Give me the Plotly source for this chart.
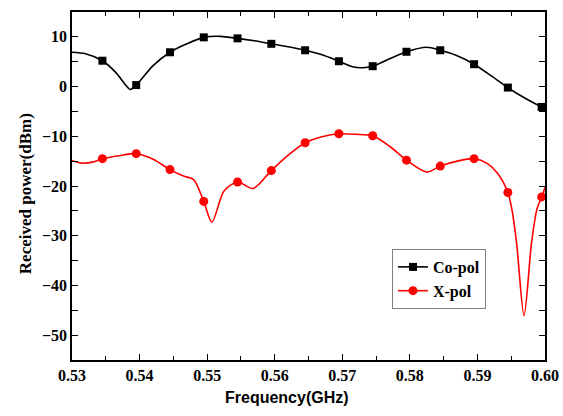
import numpy as np
import plotly.graph_objects as go

# Frequency sweep (GHz) and received power (dBm)
co_freq = [0.5300, 0.5320, 0.5345, 0.5365, 0.5380, 0.5386, 0.5395, 0.5420, 0.5445,
           0.5470, 0.5495, 0.5520, 0.5545, 0.5570, 0.5595, 0.5620, 0.5645, 0.5670,
           0.5695, 0.5715, 0.5730, 0.5745, 0.5770, 0.5795, 0.5825, 0.5845, 0.5870,
           0.5895, 0.5920, 0.5945, 0.5970, 0.5995, 0.6000]
co_pol = [6.9, 6.6, 5.2, 2.8, 0.2, -0.6, 0.3, 4.2, 6.9,
          8.6, 9.9, 10.1, 9.7, 9.2, 8.6, 8.0, 7.3, 6.4,
          5.1, 4.0, 3.8, 4.1, 5.6, 7.0, 7.9, 7.3, 6.2,
          4.5, 2.2, -0.2, -2.3, -4.1, -4.4]

x_freq = [0.5300, 0.5315, 0.5330, 0.5345, 0.5370, 0.5395, 0.5420, 0.5445, 0.5465,
          0.5480, 0.5495, 0.5507, 0.5525, 0.5545, 0.5568, 0.5595, 0.5620, 0.5645,
          0.5670, 0.5695, 0.5720, 0.5745, 0.5770, 0.5795, 0.5825, 0.5845, 0.5870,
          0.5895, 0.5915, 0.5930, 0.5945, 0.5951, 0.5958, 0.5969, 0.5980, 0.5988,
          0.5995, 0.6000]
x_pol = [-14.9, -15.4, -15.2, -14.5, -13.9, -13.5, -14.6, -16.7, -18.0,
         -18.7, -23.1, -27.3, -21.0, -19.2, -20.5, -16.9, -13.8, -11.3,
         -10.1, -9.5, -9.6, -9.9, -12.0, -14.8, -17.2, -16.0, -15.0,
         -14.5, -15.5, -17.5, -21.3, -24.7, -31.5, -46.1, -31.5, -24.7,
         -22.2, -20.3]

# Symbols are drawn at every 5 MHz sample
marker_freq = [0.5345, 0.5395, 0.5445, 0.5495, 0.5545, 0.5595, 0.5645,
               0.5695, 0.5745, 0.5795, 0.5845, 0.5895, 0.5945, 0.5995]

x_ticks = [0.53, 0.54, 0.55, 0.56, 0.57, 0.58, 0.59, 0.60]
y_ticks = [-50, -40, -30, -20, -10, 0, 10]


def pick(freq, vals):
    f = np.array(freq)
    v = np.array(vals)
    mask = np.array([np.isclose(marker_freq, m).any() for m in f])
    return f[mask], v[mask]


fig = go.Figure()

series = [
    ("Co-pol", co_freq, co_pol, "black", "square", 8),
    ("X-pol", x_freq, x_pol, "#ff0000", "circle", 9),
]
for name, fq, vals, color, sym, msize in series:
    fig.add_trace(go.Scatter(
        x=fq, y=vals, mode="lines", line=dict(color=color, width=1.6, shape="spline", smoothing=0.8),
        showlegend=False, legendgroup=name, hoverinfo="skip"))
    mf, mv = pick(fq, vals)
    fig.add_trace(go.Scatter(
        x=mf, y=mv, mode="markers", marker=dict(color=color, symbol=sym, size=msize),
        showlegend=False, legendgroup=name))
    # legend entry (line + symbol)
    fig.add_trace(go.Scatter(
        x=[None], y=[None], mode="lines+markers", name=name, legendgroup=name,
        line=dict(color=color, width=1.6), marker=dict(color=color, symbol=sym, size=msize)))

tick_font = dict(family="Liberation Serif", size=16, color="black", weight="bold")

fig.update_xaxes(
    range=[0.53, 0.60], tickvals=x_ticks, ticktext=[f"{t:.2f}" for t in x_ticks],
    ticks="inside", ticklen=6, tickwidth=1.3, tickcolor="black",
    minor=dict(ticks="inside", dtick=0.005, tick0=0.53, ticklen=4, tickwidth=1.3, tickcolor="black"),
    showline=True, linecolor="black", linewidth=1.6, mirror="ticks",
    showgrid=False, zeroline=False, tickfont=tick_font, automargin=False)
fig.update_yaxes(
    range=[-55, 15], tickvals=y_ticks, ticks="inside", ticklen=6, tickwidth=1.3, tickcolor="black",
    minor=dict(ticks="inside", dtick=5, tick0=0, ticklen=6, tickwidth=1.3, tickcolor="black"),
    showline=True, linecolor="black", linewidth=1.6, mirror="ticks",
    showgrid=False, zeroline=False, tickfont=tick_font, automargin=False)

fig.add_annotation(
    text="Frequency(GHz)", xref="paper", yref="paper", x=0.455, y=-0.109,
    xanchor="center", yanchor="middle", showarrow=False,
    font=dict(family="Liberation Sans", size=16, color="black", weight="bold"))
fig.add_annotation(
    text="Received power(dBm)", xref="paper", yref="paper", x=-0.099, y=0.477,
    xanchor="center", yanchor="middle", textangle=-90, showarrow=False,
    font=dict(family="Liberation Serif", size=17, color="black", weight="bold"))

fig.update_layout(
    width=563, height=416,
    margin=dict(l=72, r=18, t=12, b=56),
    paper_bgcolor="white", plot_bgcolor="white",
    legend=dict(x=0.6765, y=0.319, xanchor="left", yanchor="top",
                bordercolor="#808080", borderwidth=1, bgcolor="white",
                font=dict(family="Liberation Serif", size=16, color="black", weight="bold"),
                tracegroupgap=0, itemwidth=30),
)

fig.write_html("out.html")
